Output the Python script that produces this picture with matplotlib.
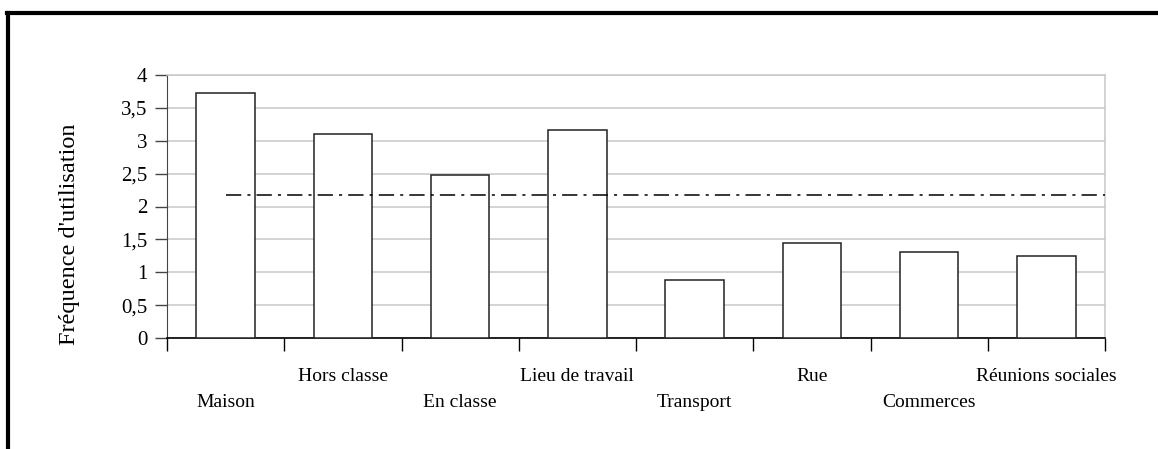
import matplotlib
matplotlib.use('Agg')
import matplotlib.pyplot as plt
from matplotlib.lines import Line2D

categories = ['Maison', 'Hors classe', 'En classe', 'Lieu de travail',
              'Transport', 'Rue', 'Commerces', 'Réunions sociales']
values = [3.72, 3.11, 2.48, 3.16, 0.88, 1.44, 1.31, 1.24]
mean_value = 2.17
y_ticks = [0, 0.5, 1, 1.5, 2, 2.5, 3, 3.5, 4]
y_tick_labels = ['0', '0,5', '1', '1,5', '2', '2,5', '3', '3,5', '4']

plt.rcParams['font.family'] = ['Liberation Serif', 'DejaVu Serif']

fig = plt.figure(figsize=(11.58, 4.49), dpi=100)
ax = fig.add_axes([167 / 1158, 1 - 338 / 449, 938 / 1158, 263 / 449])

n = len(categories)
centers = [i + 0.5 for i in range(n)]

# grid first so bars sit on top
ax.set_axisbelow(True)
ax.yaxis.grid(True, color='#c8c8c8', linewidth=1.1)

ax.bar(centers, values, width=0.5, color='white', edgecolor='#222222',
       linewidth=1.1, zorder=3)

# average line, starts at the first category
ax.plot([centers[0], n], [mean_value, mean_value], color='black',
        linewidth=1.1, linestyle=(0, (10, 4, 2, 4)), zorder=4)

ax.set_xlim(0, n)
ax.set_ylim(0, 4)
ax.set_yticks(y_ticks)
ax.set_yticklabels(y_tick_labels, fontsize=15)
ax.tick_params(axis='y', length=9, width=1, color='#444444', pad=5)

ax.set_xticks(range(n + 1))
ax.set_xticklabels([])
ax.tick_params(axis='x', which='major', length=9.5, width=1, color='black')
ax.set_xticks(centers, minor=True)
ax.set_xticklabels(categories, minor=True, fontsize=14)
ax.tick_params(axis='x', which='minor', length=0)
for i, t in enumerate(ax.xaxis.get_minor_ticks()):
    t.set_pad(21.5 if i % 2 else 40)

for s in ['top', 'right']:
    ax.spines[s].set_color('#c8c8c8')
    ax.spines[s].set_linewidth(1.1)
ax.spines['left'].set_color('#444444')
ax.spines['bottom'].set_color('black')
ax.spines['bottom'].set_linewidth(1.2)

ax.set_ylabel("Fréquence d'utilisation", fontsize=17.5)
ax.yaxis.set_label_coords(-0.093, 0.393)

# thick frame round the picture (left and top only visible)
fig.add_artist(Line2D([8 / 1158, 8 / 1158], [0, 1 - 13 / 449],
                      transform=fig.transFigure, color='black', linewidth=3))
fig.add_artist(Line2D([6.5 / 1158, 1], [1 - 13 / 449, 1 - 13 / 449],
                      transform=fig.transFigure, color='black', linewidth=3))

fig.savefig('out.png', dpi=100)
